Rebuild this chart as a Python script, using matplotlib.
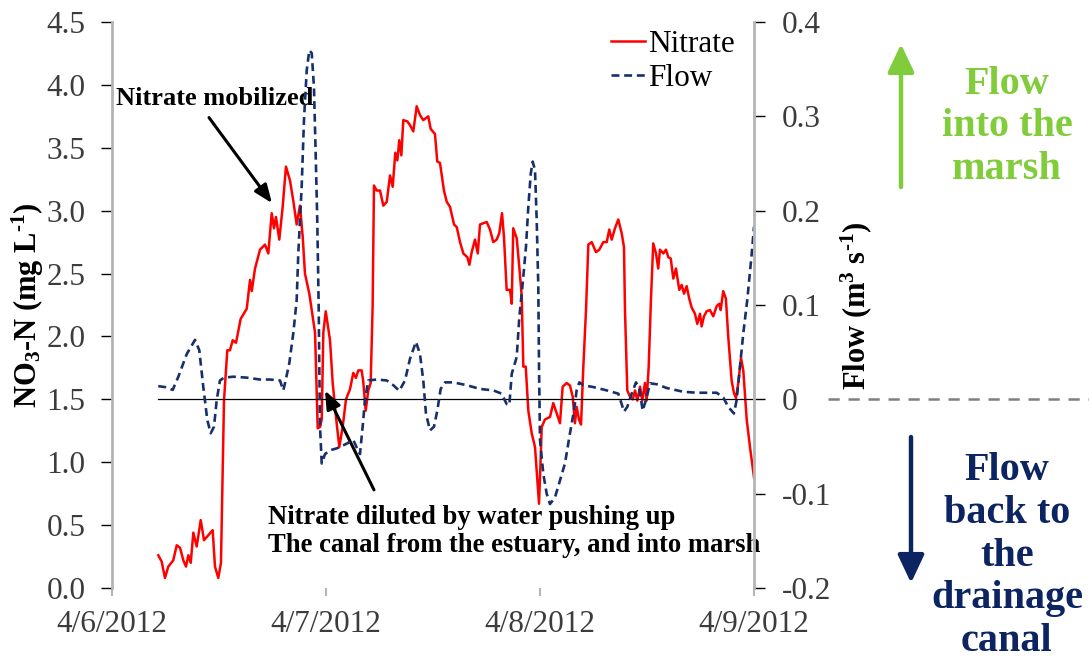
import numpy as np
import pandas as pd
import matplotlib
matplotlib.use("Agg")
import matplotlib.pyplot as plt
import matplotlib.dates as mdates
import matplotlib.transforms as mtrans
from matplotlib.lines import Line2D
from matplotlib.ticker import FuncFormatter

plt.rcParams['font.family'] = ['Liberation Serif', 'DejaVu Serif']
plt.rcParams['mathtext.fontset'] = 'custom'
plt.rcParams['mathtext.rm'] = 'Liberation Serif'
plt.rcParams['mathtext.bf'] = 'Liberation Serif:bold'
plt.rcParams['mathtext.it'] = 'Liberation Serif:italic'

start = pd.Timestamp("2012-04-06")
day_ticks = ["2012-04-06", "2012-04-07", "2012-04-08", "2012-04-09"]

# hours after 4/6/2012 00:00, NO3-N in mg/L
nitrate_hours = [
    5.19, 5.57, 5.94, 6.31, 6.87, 7.26, 7.63, 8.00, 8.30, 8.56, 8.83, 9.12, 9.50, 9.95,
    10.32, 10.80, 11.29, 11.55, 11.92, 12.22, 12.56, 12.93, 13.23, 13.54, 13.91, 14.43,
    15.11, 15.48, 15.67, 16.04, 16.60, 17.16, 17.53, 17.91, 18.17, 18.39, 18.76, 19.14,
    19.51, 19.96, 20.33, 20.71, 21.08, 21.39, 21.64, 22.13, 22.40, 22.77, 22.96, 23.07,
    23.33, 23.52, 23.70, 23.97, 24.45, 24.75, 25.12, 25.49, 25.87, 26.24, 26.69, 27.06,
    27.36, 27.62, 28.00, 28.18, 28.45, 28.74, 29.01, 29.23, 29.38, 29.69, 30.06, 30.43,
    30.81, 31.18, 31.48, 31.77, 32.00, 32.22, 32.45, 32.67, 33.12, 33.42, 33.79, 34.17,
    34.54, 34.91, 35.47, 35.74, 36.22, 36.48, 36.78, 37.23, 37.54, 37.91, 38.36, 38.66,
    39.03, 39.40, 39.85, 40.08, 40.34, 40.71, 41.02, 41.27, 41.64, 42.02, 42.39, 42.76,
    43.14, 43.43, 43.74, 43.96, 44.26, 44.64, 44.83, 45.00, 45.39, 45.68, 45.95, 46.13,
    46.40, 46.69, 47.07, 47.44, 47.70, 47.89, 48.08, 48.19, 48.56, 49.12, 49.49, 49.87,
    50.24, 50.54, 50.99, 51.36, 51.67, 51.92, 52.11, 52.37, 52.60, 52.86, 53.16, 53.42,
    53.80, 54.28, 54.65, 55.10, 55.48, 55.77, 56.04, 56.41, 56.78, 57.16, 57.42, 57.53,
    57.79, 58.10, 58.40, 58.66, 58.91, 59.22, 59.47, 59.77, 59.96, 60.19, 60.44, 60.70,
    61.01, 61.26, 61.45, 61.83, 62.13, 62.39, 62.66, 62.95, 63.25, 63.62, 63.89, 64.15,
    64.45, 64.74, 65.01, 65.38, 65.64, 65.94, 66.13, 66.39, 66.69, 67.06, 67.43, 67.81,
    68.10, 68.26, 68.55, 68.85, 69.11, 69.49, 69.75, 69.98, 70.24, 70.54, 70.80, 71.18,
    71.55, 72.00]
nitrate = [
    0.26, 0.21, 0.08, 0.17, 0.22, 0.34, 0.32, 0.22, 0.17, 0.26, 0.20, 0.44, 0.33, 0.54,
    0.38, 0.42, 0.46, 0.17, 0.08, 0.20, 1.49, 1.89, 1.89, 1.97, 1.95, 2.14,
    2.22, 2.45, 2.36, 2.54, 2.69, 2.73, 2.66, 2.98, 2.86, 2.95, 2.77, 3.03,
    3.35, 3.24, 3.08, 2.89, 3.04, 2.79, 2.50, 2.34, 2.21, 2.03, 1.55, 1.27,
    1.28, 1.34, 2.03, 2.20, 1.97, 1.63, 1.36, 1.12, 1.28, 1.50, 1.58, 1.71,
    1.67, 1.73, 1.73, 1.64, 1.41, 1.57, 1.63, 2.24, 3.20, 3.16, 3.16, 3.04,
    3.07, 3.28, 3.19, 3.46, 3.40, 3.56, 3.44, 3.72, 3.71, 3.68, 3.63, 3.83,
    3.76, 3.72, 3.75, 3.65, 3.61, 3.39, 3.38, 3.16, 3.07, 3.03, 2.89, 2.87,
    2.75, 2.66, 2.63, 2.57, 2.67, 2.77, 2.66, 2.89, 2.90, 2.91, 2.85, 2.75,
    2.77, 2.82, 2.98, 2.79, 2.37, 2.37, 2.26, 2.86, 2.78, 2.55, 2.32, 1.76,
    1.76, 1.41, 1.23, 1.12, 0.86, 0.67, 1.04, 1.28, 1.34, 1.36, 1.47, 1.39,
    1.31, 1.60, 1.63, 1.61, 1.52, 1.31, 1.44, 1.34, 1.30, 1.76, 2.21, 2.73,
    2.75, 2.67, 2.69, 2.75, 2.75, 2.85, 2.77, 2.86, 2.93, 2.82, 2.71, 2.21,
    1.57, 1.52, 1.50, 1.57, 1.49, 1.60, 1.49, 1.63, 1.49, 1.76, 2.29, 2.74,
    2.66, 2.54, 2.69, 2.66, 2.69, 2.63, 2.62, 2.46, 2.54, 2.37, 2.41, 2.34,
    2.40, 2.30, 2.23, 2.18, 2.10, 2.18, 2.08, 2.16, 2.20, 2.21, 2.16, 2.24,
    2.26, 2.21, 2.36, 2.30, 2.00, 1.65, 1.55, 1.51, 1.63, 1.83, 1.73, 1.34,
    1.12, 0.88]

# hours after 4/6/2012 00:00, flow in m3/s
flow_hours = [
    5.19, 5.94, 6.81, 7.44, 8.38, 9.31, 9.79, 10.24, 10.69, 11.07, 11.44, 11.74, 12.11,
    12.56, 13.60, 15.11, 16.60, 17.72, 18.84, 19.21, 19.40, 19.88, 20.33, 20.71, 20.89,
    21.27, 21.53, 21.84, 22.13, 22.40, 22.65, 22.84, 23.02, 23.18, 23.25, 23.33, 23.52,
    23.89, 24.45, 25.20, 26.32, 27.06, 27.44, 27.81, 28.11, 28.37, 28.74, 29.69, 30.81,
    31.55, 32.22, 32.86, 33.42, 34.09, 34.54, 34.91, 35.21, 35.66, 36.11, 36.48, 36.86,
    37.35, 38.28, 39.78, 41.27, 42.76, 43.70, 44.26, 44.56, 44.83, 45.39, 45.68, 45.87,
    46.13, 46.43, 46.69, 46.96, 47.18, 47.44, 47.63, 47.81, 47.89, 48.00, 48.37, 48.75,
    49.12, 49.68, 50.24, 50.80, 51.36, 51.81, 52.11, 52.41, 52.86, 53.98, 55.48, 56.78,
    57.16, 57.42, 57.79, 58.28, 58.77, 59.14, 59.52, 59.96, 60.34, 61.09, 62.21, 64.07,
    65.57, 67.81, 68.55, 69.11, 69.75, 70.05, 70.42, 70.80, 71.24, 71.74, 72.00]
flow = [
    0.014, 0.013, 0.010, 0.024, 0.048, 0.063, 0.052, 0.013, -0.022, -0.036, -0.029, -0.001, 0.020,
    0.023, 0.024, 0.023, 0.021, 0.021, 0.020, 0.0095, 0.017, 0.038, 0.070, 0.105, 0.154,
    0.225, 0.296, 0.349, 0.370, 0.367, 0.331, 0.261, 0.190, 0.098, 0.034, -0.029, -0.068,
    -0.058, -0.054, -0.052, -0.047, -0.043, -0.051, -0.058, -0.029, -0.001, 0.020, 0.021, 0.020,
    0.015, 0.009, 0.020, 0.043, 0.061, 0.048, 0.020, -0.015, -0.033, -0.029, -0.012, 0.011,
    0.018, 0.018, 0.015, 0.011, 0.0095, 0.006, -0.005, -0.006, 0.027, 0.045, 0.087, 0.105,
    0.130, 0.162, 0.204, 0.239, 0.252, 0.243, 0.190, 0.119, 0.034, -0.043, -0.079, -0.100,
    -0.111, -0.104, -0.086, -0.068, -0.036, -0.012, 0.0095, 0.018, 0.015, 0.013, 0.0095, 0.006,
    -0.005, -0.013, -0.008, 0.006, 0.018, 0.011, -0.012, 0.002, 0.017, 0.016, 0.012, 0.008,
    0.007, 0.007, 0.002, -0.008, -0.015, -0.001, 0.034, 0.070, 0.105, 0.154, 0.183]

nitrate_ticks = [0.0, 0.5, 1.0, 1.5, 2.0, 2.5, 3.0, 3.5, 4.0, 4.5]
flow_ticks = [-0.2, -0.1, 0.0, 0.1, 0.2, 0.3, 0.4]

t_nit = start + pd.to_timedelta(nitrate_hours, unit='h')
t_flow = start + pd.to_timedelta(flow_hours, unit='h')

red = '#ff0000'
navy = '#17306b'
green = '#80cc3a'
dark_navy = '#0c2461'
label_grey = '#3c3c3c'
spine_grey = '#b4b4b4'

W, H = 1089, 670
fig = plt.figure(figsize=(W / 100, H / 100), dpi=100)
ax = fig.add_axes([112 / W, 1 - 588 / H, (754 - 112) / W, (588 - 22) / H])
ax2 = ax.twinx()

ln1, = ax.plot(t_nit, nitrate, color=red, lw=1.8, label='Nitrate')
ln2, = ax2.plot(t_flow, flow, color=navy, lw=1.9, ls=(0, (3.0, 1.8)), label='Flow')
ax2.plot([t_flow[0], t_flow[-1]], [0, 0], color='black', lw=0.9, zorder=1)

ax.set_xlim(pd.Timestamp(day_ticks[0]), pd.Timestamp(day_ticks[-1]))
ax.set_ylim(0, 4.5)
ax2.set_ylim(-0.2, 0.4)
ax.set_yticks(nitrate_ticks)
ax.yaxis.set_major_formatter(FuncFormatter(lambda v, p: f"{v:.1f}"))
ax2.set_yticks(flow_ticks)
ax2.yaxis.set_major_formatter(FuncFormatter(lambda v, p: "0" if abs(v) < 1e-9 else f"{v:.1f}"))
ax.set_xticks([pd.Timestamp(d) for d in day_ticks])
ax.xaxis.set_major_formatter(FuncFormatter(
    lambda v, p: "{0.month}/{0.day}/{0.year}".format(mdates.num2date(v))))

for a in (ax, ax2):
    a.spines['top'].set_visible(False)
    a.spines['bottom'].set_visible(False)
    a.spines['left'].set_color(spine_grey)
    a.spines['right'].set_color(spine_grey)
    a.spines['left'].set_linewidth(2)
    a.spines['right'].set_linewidth(2)
    a.patch.set_visible(False)
ax2.spines['left'].set_visible(False)
ax.spines['right'].set_visible(False)

ax.tick_params(axis='y', direction='out', length=8, width=1, color='black',
               labelsize=22.5, labelcolor=label_grey, pad=11)
ax2.tick_params(axis='y', direction='out', length=8, width=1, color='black',
                labelsize=22.5, labelcolor=label_grey, pad=12)
ax.tick_params(axis='x', direction='out', length=6, width=1.5, color=spine_grey,
               labelsize=22.5, labelcolor=label_grey, pad=10)

# hyphen (U+2010) in the exponents, as in the original
fig.text(28 / W, 1 - 305 / H, 'NO$_\\mathbf{3}$-N (mg L$^\\mathbf{\u20101}$)', rotation=90,
         ha='center', va='center', fontsize=22, fontweight='bold')
fig.text(856 / W, 1 - 306 / H, 'Flow (m$^\\mathbf{3}$ s$^\\mathbf{\u20101}$)', rotation=90,
         ha='center', va='center', fontsize=22, fontweight='bold')

ax.legend(handles=[ln1, ln2], loc='upper left', bbox_to_anchor=(611 / W, 1 - 30 / H),
          bbox_transform=fig.transFigure, frameon=False, fontsize=22.5,
          handlelength=1.1, handletextpad=0.1, labelspacing=0.15,
          borderpad=0, borderaxespad=0)

# annotations
small_head = dict(arrowstyle='-|>,head_length=0.55,head_width=0.22',
                  mutation_scale=20, color='black', lw=2.2, shrinkA=0, shrinkB=0)
ax.text(start + pd.Timedelta(hours=0.45), 3.89, 'Nitrate mobilized', fontsize=19,
        fontweight='bold', ha='left', va='center')
ax.annotate('', xy=(start + pd.Timedelta(hours=17.94), 3.06),
            xytext=(start + pd.Timedelta(hours=10.88), 3.74), arrowprops=small_head)
ax.text(start + pd.Timedelta(hours=17.5), 0.45,
        'Nitrate diluted by water pushing up\nThe canal from the estuary, and into marsh',
        fontsize=19.2, fontweight='bold', ha='left', va='center', linespacing=1.2)
ax.annotate('', xy=(start + pd.Timedelta(hours=23.89), 1.57),
            xytext=(start + pd.Timedelta(hours=29.38), 0.78), arrowprops=small_head)

# zero-flow guide outside the axes
trans = mtrans.blended_transform_factory(fig.transFigure, ax2.transData)
fig.add_artist(Line2D([828 / W, 1.0], [0, 0], transform=trans, color='#808080',
                      lw=1.8, ls=(0, (4.5, 3.5))))

fig.text(1007 / W, 1 - 127 / H, 'Flow\ninto the\nmarsh', color=green, fontsize=29,
         fontweight='bold', ha='center', va='center', linespacing=1.2)
fig.text(1007 / W, 1 - 556 / H, 'Flow\nback to\nthe\ndrainage\ncanal', color=dark_navy,
         fontsize=29, fontweight='bold', ha='center', va='center', linespacing=1.2)

big_head = dict(arrowstyle='-|>,head_length=0.85,head_width=0.4',
                mutation_scale=20, lw=3.2, shrinkA=0, shrinkB=0)
ax.annotate('', xy=(901, H - 44), xytext=(901, H - 187), xycoords='figure pixels',
            textcoords='figure pixels', annotation_clip=False,
            arrowprops=dict(big_head, color=green))
ax.annotate('', xy=(911, H - 583), xytext=(911, H - 437), xycoords='figure pixels',
            textcoords='figure pixels', annotation_clip=False,
            arrowprops=dict(big_head, color=dark_navy))

fig.savefig('out.png', dpi=100)
